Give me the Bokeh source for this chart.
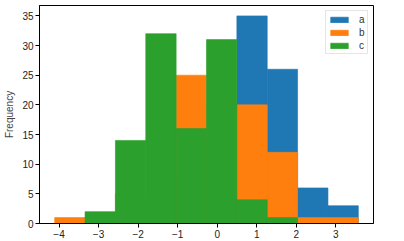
import numpy as np
from bokeh.plotting import figure
from bokeh.models import Range1d, FixedTicker, Legend, LegendItem
from bokeh.embed import file_html
from bokeh.resources import INLINE

# histogram data (10 shared bins)
x_min = -4.11
x_max = 3.57
series_names = ["a", "b", "c"]
counts_a = [0, 0, 0, 2, 8, 20, 35, 26, 6, 3]
counts_b = [1, 1, 5, 14, 25, 20, 20, 12, 1, 1]
counts_c = [0, 2, 14, 32, 16, 31, 4, 1, 0, 0]
colors = ["#1f77b4", "#ff7f0e", "#2ca02c"]
x_ticks = [-4, -3, -2, -1, 0, 1, 2, 3]
y_ticks = [0, 5, 10, 15, 20, 25, 30, 35]

edges = np.linspace(x_min, x_max, len(counts_a) + 1)
span = x_max - x_min
ymax = max(max(counts_a), max(counts_b), max(counts_c)) * 1.05

p = figure(width=404, height=241, output_backend="svg", toolbar_location=None,
           x_range=Range1d(x_min - 0.05 * span, x_max + 0.05 * span),
           y_range=Range1d(0, ymax),
           min_border_left=39, min_border_right=31, min_border_top=5, min_border_bottom=18)

items = []
for name, cnt, col in zip(series_names, [counts_a, counts_b, counts_c], colors):
    r = p.quad(left=edges[:-1], right=edges[1:], bottom=0, top=cnt,
               fill_color=col, line_color=col, line_width=0.6)
    items.append(LegendItem(label=name, renderers=[r]))

legend = Legend(items=items, location="top_right",
                label_text_font_size="10px", label_text_font="Liberation Sans",
                label_text_color="#333333",
                glyph_width=22, glyph_height=7, label_standoff=9,
                label_height=12, label_width=6,
                spacing=1, padding=2, margin=5,
                border_line_color="#cccccc", border_line_width=1,
                background_fill_alpha=0.8)
p.add_layout(legend)

p.xgrid.visible = False
p.ygrid.visible = False
p.outline_line_color = "black"
p.outline_line_width = 1

for ax in (p.xaxis[0], p.yaxis[0]):
    ax.major_label_text_font = "Liberation Sans"
    ax.major_label_text_font_size = "10px"
    ax.major_label_text_color = "#222222"
    ax.minor_tick_line_color = None
    ax.major_tick_out = 4
    ax.major_tick_in = 0
    ax.axis_line_color = "black"
    ax.major_tick_line_color = "black"
    ax.major_label_standoff = 2

p.xaxis.ticker = FixedTicker(ticks=x_ticks)
p.yaxis.ticker = FixedTicker(ticks=y_ticks)
p.yaxis.axis_label = "Frequency"
p.yaxis.axis_label_text_font = "Liberation Sans"
p.yaxis.axis_label_text_font_size = "10px"
p.yaxis.axis_label_text_font_style = "normal"
p.yaxis.axis_label_standoff = 4

open("out.html", "w").write(file_html(p, INLINE))
